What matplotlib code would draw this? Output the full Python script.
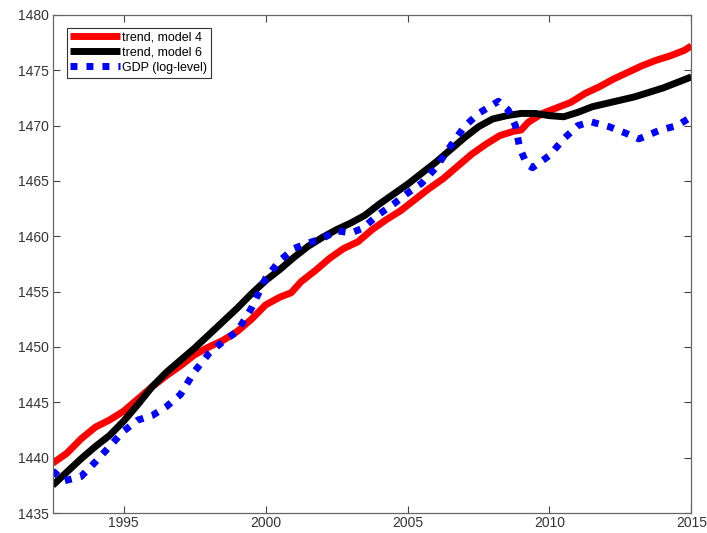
import matplotlib
matplotlib.use("Agg")
import matplotlib.pyplot as plt

# ---- data ----
red_x = [1992.5, 1993.0, 1993.5, 1994.0, 1994.5, 1995.0, 1995.5, 1996.0, 1996.5, 1997.0,
         1997.5, 1998.0, 1998.5, 1999.0, 1999.5, 2000.0, 2000.5, 2000.9, 2001.25, 2001.75,
         2002.25, 2002.75, 2003.25, 2003.75, 2004.25, 2004.75, 2005.25, 2005.75, 2006.25, 2006.75,
         2007.25, 2007.75, 2008.25, 2008.75, 2009.0, 2009.25, 2009.75, 2010.25, 2010.75, 2011.25,
         2011.75, 2012.25, 2012.75, 2013.25, 2013.75, 2014.25, 2014.75, 2015.0]
red_y = [1439.5, 1440.4, 1441.7, 1442.75, 1443.4, 1444.2, 1445.3, 1446.4, 1447.4, 1448.3,
         1449.3, 1450.0, 1450.6, 1451.4, 1452.5, 1453.8, 1454.5, 1454.9, 1455.9, 1456.9,
         1458.0, 1458.9, 1459.5, 1460.6, 1461.5, 1462.3, 1463.3, 1464.3, 1465.2, 1466.3,
         1467.4, 1468.3, 1469.1, 1469.5, 1469.6, 1470.3, 1471.1, 1471.6, 1472.1, 1472.9,
         1473.5, 1474.2, 1474.8, 1475.4, 1475.9, 1476.3, 1476.8, 1477.2]

black_x = [1992.5, 1993.0, 1993.5, 1994.0, 1994.5, 1995.0, 1995.5, 1996.0, 1996.5, 1997.0,
           1997.5, 1998.0, 1998.5, 1999.0, 1999.5, 2000.0, 2000.5, 2001.0, 2001.5, 2002.0,
           2002.5, 2003.0, 2003.5, 2004.0, 2004.5, 2005.0, 2005.5, 2006.0, 2006.5, 2007.0,
           2007.5, 2008.0, 2008.5, 2009.0, 2009.5, 2010.0, 2010.5, 2011.0, 2011.5, 2012.0,
           2012.5, 2013.0, 2013.5, 2014.0, 2014.5, 2015.0]
black_y = [1437.5, 1438.7, 1439.9, 1441.0, 1442.0, 1443.3, 1444.8, 1446.4, 1447.7, 1448.8,
           1449.9, 1451.1, 1452.3, 1453.5, 1454.8, 1456.0, 1457.0, 1458.1, 1459.1, 1459.9,
           1460.6, 1461.2, 1461.9, 1462.9, 1463.8, 1464.7, 1465.7, 1466.7, 1467.8, 1468.9,
           1469.9, 1470.6, 1470.9, 1471.1, 1471.1, 1470.9, 1470.8, 1471.2, 1471.7, 1472.0,
           1472.3, 1472.6, 1473.0, 1473.4, 1473.9, 1474.4]

blue_x = [1992.5, 1992.9, 1993.5, 1994.0, 1994.5, 1995.0, 1995.5, 1996.0, 1996.5, 1997.0,
          1997.5, 1998.0, 1998.5, 1999.0, 1999.5, 2000.0, 2000.5, 2001.0, 2001.5, 2002.0,
          2002.5, 2003.0, 2003.4, 2004.0, 2004.5, 2005.0, 2005.5, 2006.0, 2006.5, 2007.0,
          2007.5, 2008.2, 2008.55, 2008.8, 2008.95, 2009.2, 2009.4, 2010.0, 2010.5, 2011.0,
          2011.45, 2012.1, 2012.7, 2013.15, 2013.9, 2014.5, 2015.0]
blue_y = [1438.8, 1437.9, 1438.3, 1439.6, 1441.0, 1442.4, 1443.4, 1443.8, 1444.6, 1445.7,
          1447.8, 1449.4, 1450.5, 1451.4, 1453.5, 1456.2, 1457.8, 1458.9, 1459.4, 1459.8,
          1460.5, 1460.3, 1460.7, 1462.0, 1462.9, 1463.9, 1464.8, 1466.2, 1468.1, 1469.9,
          1471.1, 1472.2, 1471.4, 1470.0, 1468.0, 1466.5, 1466.2, 1467.3, 1468.8, 1470.0,
          1470.35, 1469.9, 1469.3, 1468.8, 1469.6, 1470.0, 1470.8]

labels = ["trend, model 4", "trend, model 6", "GDP (log-level)"]
x_ticks = [1995, 2000, 2005, 2010, 2015]
y_ticks = [1435, 1440, 1445, 1450, 1455, 1460, 1465, 1470, 1475, 1480]

# ---- figure ----
plt.rcParams['font.family'] = ['Liberation Sans', 'DejaVu Sans']
fig = plt.figure(figsize=(7.07, 5.33), dpi=100)
ax = fig.add_axes([0.0745, 0.0375, 0.9035, 0.9345])

ax.plot(red_x, red_y, color='#ff0000', lw=5, solid_capstyle='butt', label=labels[0])
ax.plot(black_x, black_y, color='black', lw=5, solid_capstyle='butt', label=labels[1])
ax.plot(blue_x, blue_y, color='#0000ff', lw=5, linestyle=(0, (1, 1.3)),
        dash_capstyle='butt', label=labels[2])

ax.set_xlim(1992.5, 2015)
ax.set_ylim(1435, 1480)
ax.set_xticks(x_ticks)
ax.set_yticks(y_ticks)

ax.tick_params(direction='in', top=True, right=True, length=5, width=0.8,
               colors='#444444', labelsize=10, labelcolor='#333333')
ax.tick_params(axis='x', pad=2.5)
ax.tick_params(axis='y', pad=3)
for s in ax.spines.values():
    s.set_color('#666666')
    s.set_linewidth(0.9)

leg = ax.legend(loc='upper left', bbox_to_anchor=(0.022, 0.974), borderaxespad=0,
                fontsize=9, handlelength=4.0, handletextpad=0.15, labelspacing=0.25,
                borderpad=0.3, fancybox=False, framealpha=1, edgecolor='#333333')
leg.get_frame().set_linewidth(0.8)

fig.savefig("out.png", dpi=100)
